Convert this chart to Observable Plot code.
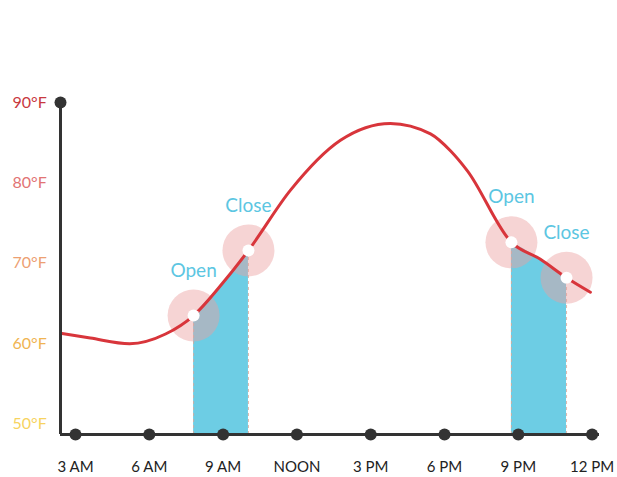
<!DOCTYPE html>
<html>
<head>
<meta charset="utf-8">
<script src="https://cdn.jsdelivr.net/npm/d3@7"></script>
<script src="https://cdn.jsdelivr.net/npm/@observablehq/plot@0.6"></script>
<style>
  html, body { margin: 0; padding: 0; background: #fff; }
  #chart svg { display: block; }
</style>
</head>
<body>
<div id="chart"></div>
<script>
// X ticks (hours of day) and their labels
const tickHours = [3, 6, 9, 12, 15, 18, 21, 24];
const tickLabels = ["3 AM", "6 AM", "9 AM", "NOON", "3 PM", "6 PM", "9 PM", "12 PM"];

// Y ticks (temperature) and labels
const tempTicks = [90, 80, 70, 60, 50];
const tempLabels = ["90°F", "80°F", "70°F", "60°F", "50°F"];
const tempColors = ["#c9393f", "#e27474", "#eda072", "#f0b452", "#f7d35f"];

// Temperature curve
const curveHours = [2.39, 3.6, 5.2, 6.66, 7.8, 9.0, 10.03, 11.74, 13.77, 15.8, 17.43, 18.24, 18.93, 20.72, 21.9, 22.96, 23.93];
const curveTemps = [61.3, 60.7, 60.0, 61.2, 63.5, 67.6, 71.6, 79.1, 85.3, 87.4, 86.1, 84.0, 81.5, 72.6, 70.5, 68.2, 66.4];

// Open / Close events
const eventHours = [7.8, 10.03, 20.72, 22.96];
const eventTemps = [63.5, 71.6, 72.6, 68.2];
const eventLabels = ["Open", "Close", "Open", "Close"];

// Window-open periods
const windowStarts = [7.8, 20.72];
const windowEnds = [10.03, 22.96];

const baseTemp = 48.7;

const curve = curveHours.map((h, i) => ({h, t: curveTemps[i]}));
const events = eventHours.map((h, i) => ({h, t: eventTemps[i], label: eventLabels[i]}));
const areaData = [];
windowStarts.forEach((s, k) => {
  curve.filter(d => d.h >= s - 1e-9 && d.h <= windowEnds[k] + 1e-9)
       .forEach(d => areaData.push({...d, w: k}));
});
const edges = [...windowStarts, ...windowEnds].map((h) => ({h, t: curve.find(d => Math.abs(d.h - h) < 1e-6).t}));
const ticks = tickHours.map((h, i) => ({h, label: tickLabels[i]}));
const yt = tempTicks.map((t, i) => ({t, label: tempLabels[i], color: tempColors[i]}));

const font = "Lato, 'Open Sans', sans-serif";

const chart = Plot.plot({
  width: 617,
  height: 477,
  marginLeft: 60,
  marginRight: 18,
  marginTop: 102,
  marginBottom: 43,
  x: {domain: [2.39, 24.3], axis: null},
  y: {domain: [baseTemp, 90], axis: null},
  style: {background: "#fff", fontFamily: font},
  marks: [
    Plot.areaY(areaData, {x: "h", y1: baseTemp, y2: "t", z: "w", fill: "#6dcde4", curve: "monotone-x"}),
    Plot.ruleX(edges, {x: "h", y1: baseTemp, y2: "t", stroke: "#d8a898", strokeWidth: 1, strokeDasharray: "3,3", strokeOpacity: 0.8}),
    Plot.dot(events, {x: "h", y: "t", r: 26, fill: "#eba0a0", fillOpacity: 0.45}),
    Plot.line(curve, {x: "h", y: "t", stroke: "#d8353b", strokeWidth: 3, curve: "monotone-x"}),
    Plot.dot(events, {x: "h", y: "t", r: 6, fill: "#fff"}),
    Plot.text(events, {x: "h", y: "t", text: "label", dy: -45, fill: "#5cc6e2", fontSize: 19, fontFamily: font}),
    // axes
    Plot.ruleX([2.39], {y1: baseTemp, y2: 90, stroke: "#333", strokeWidth: 3}),
    Plot.ruleY([baseTemp], {x1: 2.39, x2: 24.3, stroke: "#333", strokeWidth: 3}),
    Plot.dot([{h: 2.39, t: 90}], {x: "h", y: "t", r: 6, fill: "#333"}),
    Plot.dot(ticks, {x: "h", y: baseTemp, r: 6, fill: "#333"}),
    Plot.text(ticks, {x: "h", y: baseTemp, text: "label", dy: 33, fill: "#222", fontSize: 15, fontFamily: font}),
    Plot.text(yt, {y: "t", frameAnchor: "left", dx: -48, textAnchor: "start", text: "label", fill: "color", fontSize: 16, fontFamily: font})
  ]
});
document.getElementById("chart").appendChild(chart);
</script>
</body>
</html>
